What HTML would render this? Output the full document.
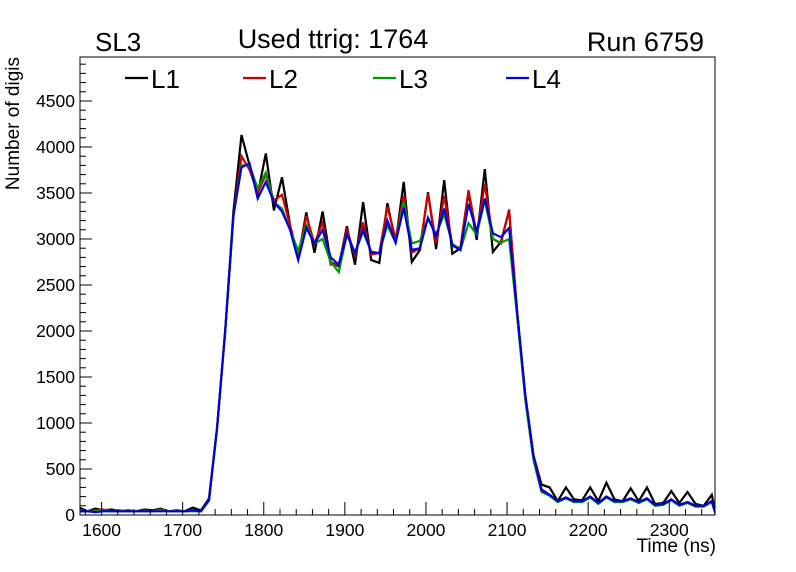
<!DOCTYPE html>
<html><head><meta charset="utf-8"><style>
body{margin:0;background:#fff;}
svg{display:block;font-family:"Liberation Sans",sans-serif;}
</style></head><body>
<svg id="c" width="796" height="572">
<defs><clipPath id="clip"><rect x="80" y="57" width="635" height="458"/></clipPath></defs>
<rect x="0" y="0" width="796" height="572" fill="#fff"/>
<g id="plot" clip-path="url(#clip)"></g>
<rect x="80" y="57" width="635" height="458" fill="none" stroke="#000" stroke-width="1"/>
<g id="axes"></g>
<text x="95" y="51" font-size="26">SL3</text>
<text x="333" y="48" font-size="27" text-anchor="middle">Used ttrig: 1764</text>
<text x="704" y="51" font-size="27" text-anchor="end">Run 6759</text>
<text transform="translate(19,57) rotate(-90)" font-size="19" text-anchor="end">Number of digis</text>
<text x="716" y="552" font-size="19" text-anchor="end">Time (ns)</text>
<g id="legend"></g>
</svg>
<script>
const binStart = 1572.5;
const binWidth = 10;
const seriesNames = ["L1","L2","L3","L4"];
const seriesColors = ["#000000","#d00000","#009900","#0000dd"];
const l1 = [80,40,70,50,60,40,50,40,60,50,70,40,50,40,80,50,
 180,950,2000,3300,4130,3800,3480,3930,3310,3670,3150,2790,3290,2850,3300,2750,2700,3140,2720,3400,2770,2740,3390,2960,3620,2750,2880,3510,2890,3640,2840,2900,3510,2990,3760,2860,2970,3310,2200,1300,650,
 330,300,150,300,170,160,300,150,350,170,150,290,150,300,120,130,260,130,250,120,100,220,0];
const l2 = [40,40,50,60,40,50,40,40,50,40,60,40,40,40,50,40,
 170,950,2000,3250,3900,3750,3500,3700,3420,3480,3150,2800,3250,2950,3180,2720,2720,3100,2820,3180,2830,2850,3350,3000,3470,2850,2900,3500,2950,3470,2930,2900,3530,3050,3600,3000,2950,3320,2200,1300,650,
 280,220,150,190,150,150,200,130,200,150,150,180,140,180,110,120,170,110,140,100,100,150,0];
const l3 = [40,40,40,50,40,40,40,40,40,40,50,40,40,40,40,40,
 160,950,2000,3250,3800,3800,3550,3720,3400,3330,3100,2870,3150,2950,3000,2750,2640,3050,2850,3080,2860,2850,3150,2960,3400,2950,2980,3220,3050,3270,2950,2880,3170,3050,3420,3000,2960,3000,2150,1250,600,
 250,210,140,180,140,140,190,120,190,140,140,170,130,170,100,110,160,100,130,90,90,140,0];
const l4 = [40,40,30,40,40,40,40,40,40,40,40,40,40,40,50,40,
 160,950,2000,3250,3780,3820,3440,3620,3400,3300,3100,2770,3120,2950,3100,2800,2720,3050,2850,3100,2860,2840,3200,2960,3340,2880,2900,3230,3030,3330,2930,2880,3380,3080,3440,3060,3020,3120,2200,1300,650,
 270,220,150,190,150,150,200,130,200,150,150,180,140,180,110,120,170,110,140,100,100,150,0];
const series = [l1,l2,l3,l4];
const yTicks = [0,500,1000,1500,2000,2500,3000,3500,4000,4500];
const xTicks = [1600,1700,1800,1900,2000,2100,2200,2300];

const X0=80,X1=715,Y0=515,Y1=57;
const xMin=1573.4, xMax=2356.4, yMin=0, yMax=4978;
const xs = t => X0 + (t-xMin)/(xMax-xMin)*(X1-X0);
const ys = v => Y0 - (v-yMin)/(yMax-yMin)*(Y0-Y1);
const NS="http://www.w3.org/2000/svg";
const plot=document.getElementById('plot'), axes=document.getElementById('axes'), legend=document.getElementById('legend');
function mk(tag,attrs,parent){const e=document.createElementNS(NS,tag);for(const k in attrs)e.setAttribute(k,attrs[k]);parent.appendChild(e);return e;}

series.forEach((vals,i)=>{
  const pts=vals.map((v,k)=>{
    const t = (k===vals.length-1) ? binStart+(k-1)*binWidth+5 : binStart+k*binWidth;
    return xs(t).toFixed(1)+','+ys(v).toFixed(1);
  }).join(' ');
  const pl=mk('polyline',{points:pts,fill:'none',stroke:seriesColors[i],'stroke-width':2.2,'stroke-linejoin':'miter'},plot);
  
  
});

for(let v=0; v<=yMax; v+=100){
  const major = v%500===0;
  const t=mk('line',{x1:X0,x2:X0+(major?12:6),y1:ys(v),y2:ys(v),stroke:'#000','stroke-width':1},axes);
  
  
}
yTicks.forEach(v=>{
  const t=mk('text',{x:X0-5,y:ys(v)+6,'font-size':17.5,'text-anchor':'end'},axes);
  t.textContent=v;
  
  
});
for(let v=1580; v<=xMax; v+=20){
  const major = v%100===0;
  const t=mk('line',{x1:xs(v),x2:xs(v),y1:Y0,y2:Y0-(major?13:6),stroke:'#000','stroke-width':1},axes);
  
  
}
xTicks.forEach(v=>{
  const t=mk('text',{x:xs(v),y:Y0+21,'font-size':17.5,'text-anchor':'middle'},axes);
  t.textContent=v;
  
  
});
const legX=[125,243,373,506];
seriesNames.forEach((n,i)=>{
  const ln=mk('line',{x1:legX[i],x2:legX[i]+23,y1:78,y2:78,stroke:seriesColors[i],'stroke-width':2.2},legend);
  
  
  const tx=mk('text',{x:legX[i]+26,y:88,'font-size':26},legend);
  tx.textContent=n;
  
  
});
</script>
</body></html>
